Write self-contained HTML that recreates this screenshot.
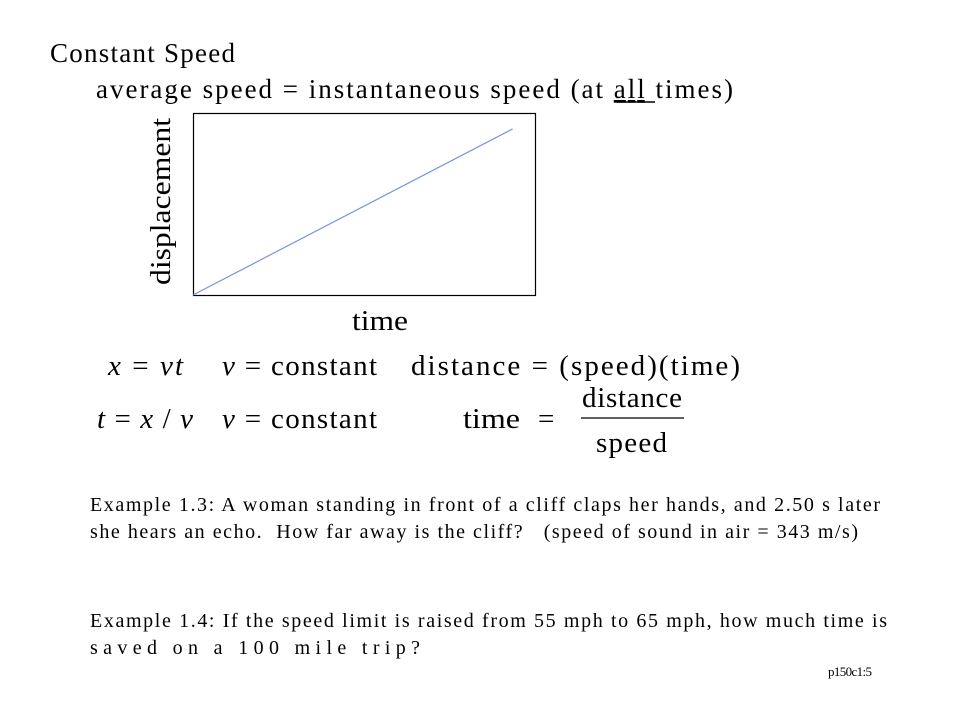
<!DOCTYPE html>
<html><head><meta charset="utf-8"><style>
body{margin:0;width:960px;height:720px;background:#fff;position:relative;overflow:hidden;font-family:"Liberation Serif",serif;color:#000}
</style></head><body>
<svg id="chart" width="960" height="720" style="position:absolute;left:0;top:0" font-family="Liberation Serif">
<text x="50" y="62" font-size="27" textLength="185" lengthAdjust="spacing">Constant Speed</text>
<text x="96" y="98" font-size="27" textLength="637" lengthAdjust="spacing">average speed = instantaneous speed (at <tspan text-decoration="underline">all</tspan> times)</text>
<line x1="617" y1="102" x2="655" y2="102" stroke="#000" stroke-width="1.5"/>
<rect x="193.5" y="113.5" width="342" height="182" fill="none" stroke="#000" stroke-width="1.2"/>
<text transform="translate(170,285) rotate(-90)" font-size="28" textLength="167" lengthAdjust="spacingAndGlyphs">displacement</text>
<text x="352" y="330" font-size="28" textLength="56" lengthAdjust="spacingAndGlyphs">time</text>
<g id="series"></g>
<g font-size="29">
<text x="108" y="375" textLength="75" lengthAdjust="spacing"><tspan font-style="italic">x</tspan> = <tspan font-style="italic">vt</tspan></text>
<text x="222" y="375" textLength="155" lengthAdjust="spacing"><tspan font-style="italic">v</tspan> = constant</text>
<text x="411" y="375" textLength="329" lengthAdjust="spacing">distance  =  (speed)(time)</text>
<text x="97" y="428" textLength="96" lengthAdjust="spacing"><tspan font-style="italic">t</tspan> = <tspan font-style="italic">x</tspan> / <tspan font-style="italic">v</tspan></text>
<text x="222" y="428" textLength="155" lengthAdjust="spacing"><tspan font-style="italic">v</tspan> = constant</text>
<text x="463" y="428" textLength="57" lengthAdjust="spacingAndGlyphs">time</text>
<text x="538" y="428">=</text>
<text x="582" y="407" textLength="100" lengthAdjust="spacing">distance</text>
<line x1="581" y1="418" x2="684" y2="418" stroke="#000" stroke-width="1.3"/>
<text x="596" y="452" textLength="71" lengthAdjust="spacing">speed</text>
</g>
<g font-size="20">
<text x="90" y="511" textLength="790" lengthAdjust="spacing">Example 1.3: A woman standing in front of a cliff claps her hands, and 2.50 s later</text>
<text x="90" y="538" textLength="768" lengthAdjust="spacing" xml:space="preserve">she hears an echo.  How far away is the cliff?   (speed of sound in air = 343 m/s)</text>
<text x="90" y="627" textLength="797" lengthAdjust="spacing">Example 1.4: If the speed limit is raised from 55 mph to 65 mph, how much time is</text>
<text x="90" y="654" textLength="330" lengthAdjust="spacing">saved on a 100 mile trip?</text>
</g>
<text x="828" y="676" font-size="13" textLength="44" lengthAdjust="spacing">p150c1:5</text>
</svg>
<script>
const times = [0, 10];
const displacements = [0, 10];
const xDomain = [0, 10.7];
const yDomain = [0, 10.96];
const px0 = 193, px1 = 535, py0 = 295, py1 = 113;
function xs(v){return px0 + (v - xDomain[0]) / (xDomain[1] - xDomain[0]) * (px1 - px0);}
function ys(v){return py0 - (v - yDomain[0]) / (yDomain[1] - yDomain[0]) * (py0 - py1);}
const g = document.getElementById('series');
const pl = document.createElementNS('http://www.w3.org/2000/svg','polyline');
pl.setAttribute('points', times.map((t,i)=>xs(t)+','+ys(displacements[i])).join(' '));
pl.setAttribute('fill','none');
pl.setAttribute('stroke','#7b93e0');
pl.setAttribute('stroke-width','1.2');


g.appendChild(pl);
</script>
</body></html>
